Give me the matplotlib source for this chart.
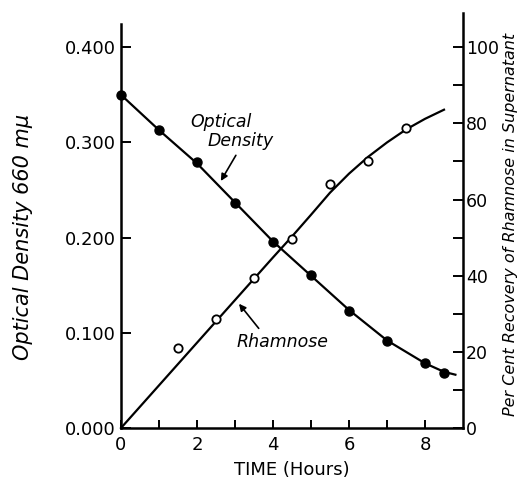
"""Optical density and rhamnose recovery vs time."""

import matplotlib

matplotlib.use("Agg")
import matplotlib.pyplot as plt
from matplotlib.ticker import FixedLocator

# optical density (filled circles, left axis)
od_time = [0, 1, 2, 3, 4, 5, 6, 7, 8, 8.5]
od_values = [0.350, 0.313, 0.279, 0.236, 0.195, 0.161, 0.123, 0.091, 0.068, 0.058]
od_line_time = [0, 1, 2, 3, 4, 5, 6, 7, 8, 8.5, 8.8]
od_line_values = [0.350, 0.313, 0.278, 0.237, 0.196, 0.160, 0.124, 0.092, 0.068, 0.059, 0.056]

# rhamnose recovery (open circles, right axis, per cent)
rham_time = [1.5, 2.5, 3.5, 4.5, 5.5, 6.5, 7.5]
rham_values = [21, 28.7, 39.5, 49.7, 64, 70, 78.7]
rham_line_time = [0, 1, 2, 3, 4, 4.5, 5, 5.5, 6, 6.5, 7, 7.5, 8, 8.5]
rham_line_values = [0, 11.2, 22.4, 33.6, 44.8, 50.3, 56, 61.8, 66.8, 71.2, 75, 78.4, 81.2, 83.6]

od_ticks = [0.0, 0.1, 0.2, 0.3, 0.4]
od_ticklabels = ["0.000", "0.100", "0.200", "0.300", "0.400"]
pct_ticks = [0, 20, 40, 60, 80, 100]
pct_minor = [10, 30, 50, 70, 90]
time_ticks = [0, 2, 4, 6, 8]
time_minor = [1, 3, 5, 7]

FONT = "DejaVu Sans"
plt.rcParams["font.family"] = FONT

fig = plt.figure(figsize=(5.2, 4.8), dpi=100)
ax = fig.add_axes([121 / 520, 1 - 428 / 480, (463 - 121) / 520, (428 - 13) / 480])
ax2 = ax.twinx()

ax.set_xlim(0, 9)
ax.set_ylim(0, 0.436)
ax2.set_ylim(0, 0.436 * 250)

ax.plot(od_line_time, od_line_values, color="black", lw=1.6, clip_on=False)
ax.plot(od_time, od_values, "o", color="black", ms=6.5, clip_on=False)
ax2.plot(rham_line_time, rham_line_values, color="black", lw=1.6, clip_on=False)
ax2.plot(rham_time, rham_values, "o", mfc="white", mec="black", mew=1.3, ms=6,
         clip_on=False)

for a in (ax, ax2):
    a.spines["top"].set_visible(False)
    for s in a.spines.values():
        s.set_linewidth(1.8)
ax2.spines["left"].set_visible(False)
ax2.spines["bottom"].set_visible(False)
ax.spines["right"].set_visible(False)
ax.spines["left"].set_bounds(0, 0.424)

ax.set_xticks(time_ticks)
ax.xaxis.set_minor_locator(FixedLocator(time_minor))
ax.set_yticks(od_ticks)
ax.set_yticklabels(od_ticklabels)
ax2.set_yticks(pct_ticks)
ax2.yaxis.set_minor_locator(FixedLocator(pct_minor))

ax.tick_params(axis="x", which="both", direction="in", length=6, width=1.4,
               pad=6, labelsize=13)
ax.tick_params(axis="y", which="both", direction="in", length=7, width=1.4,
               pad=4, labelsize=13)
ax2.tick_params(axis="y", which="both", direction="in", length=7, width=1.4,
                pad=2, labelsize=12.5)

ax.set_xlabel("TIME (Hours)", fontsize=13, labelpad=5)
ax.set_ylabel("Optical Density 660 m\u03bc", fontsize=15, style="italic")
ax.yaxis.set_label_coords(-0.258, 0.46)
ax2.set_ylabel("Per Cent Recovery of Rhamnose in Supernatant", fontsize=11.5,
               style="italic")
ax2.yaxis.set_label_coords(1.116, 0.49)

ax.text(2.64, 0.321, "Optical", style="italic", fontsize=12.5, ha="center",
        va="center")
ax.text(3.14, 0.301, "Density", style="italic", fontsize=12.5, ha="center",
        va="center")
ax.annotate("", xy=(2.59, 0.257), xytext=(3.06, 0.289),
            arrowprops=dict(arrowstyle="-|>", color="black", lw=1.2,
                            mutation_scale=10))

ax2.text(4.25, 22.7, "Rhamnose", style="italic", fontsize=12.5, ha="center",
         va="center")
ax2.annotate("", xy=(3.06, 33.2), xytext=(3.67, 25.6),
             arrowprops=dict(arrowstyle="-|>", color="black", lw=1.2,
                             mutation_scale=10))

fig.savefig("out.png", dpi=100)
